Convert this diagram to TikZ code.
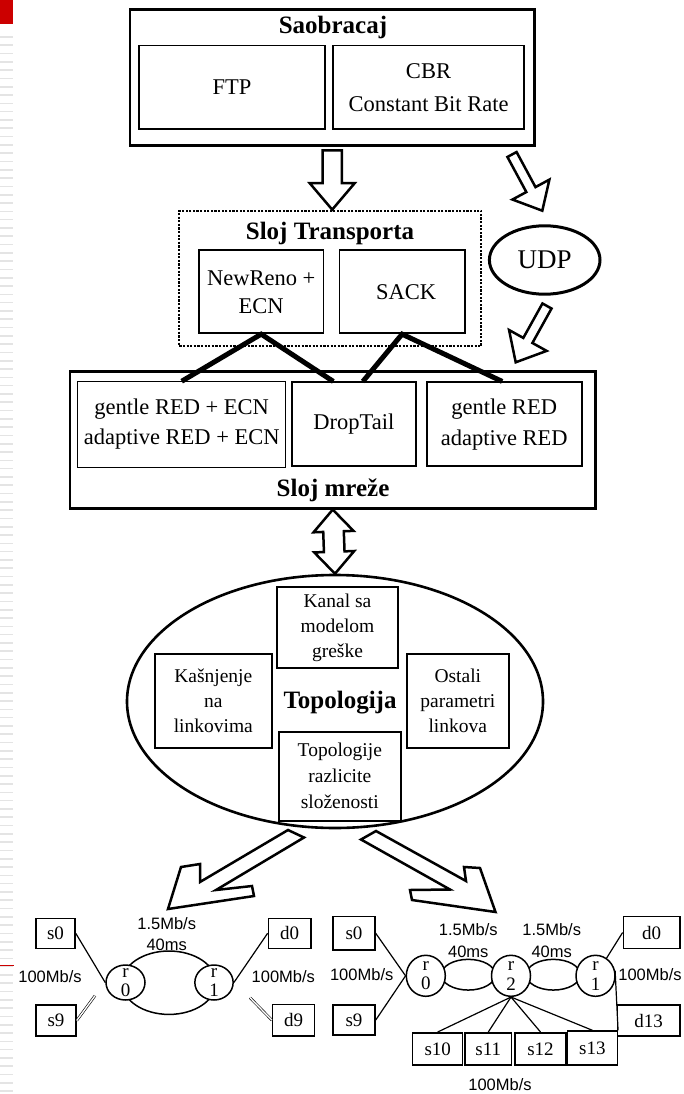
\documentclass[tikz,border=0pt]{standalone}
\usepackage{fontspec}
\setmainfont{Liberation Serif}
\newfontfamily\arialf{Liberation Sans}
\usetikzlibrary{calc,shapes.geometric}
\definecolor{slidered}{RGB}{204,0,0}
\definecolor{stripegray}{RGB}{228,228,228}

\newcommand\blockarrow[5]{%
  \path (#1) coordinate (bas) (#2) coordinate (bat);
  \path ($(bat)!#5!(bas)$) coordinate (bah);
  \draw[barrow] ($(bas)!#3!90:(bat)$) -- ($(bah)!#3!-90:(bas)$) -- ($(bah)!#4!-90:(bas)$) -- (bat)
    -- ($(bah)!#4!90:(bas)$) -- ($(bah)!#3!90:(bas)$) -- ($(bas)!#3!-90:(bat)$) -- cycle;}
\newcommand\dblockarrow[5]{%
  \path (#1) coordinate (bas) (#2) coordinate (bat);
  \path ($(bas)!#5!(bat)$) coordinate (bah1) ($(bat)!#5!(bas)$) coordinate (bah2);
  \draw[barrow] (bas) -- ($(bah1)!#4!90:(bat)$) -- ($(bah1)!#3!90:(bat)$) -- ($(bah2)!#3!-90:(bas)$)
    -- ($(bah2)!#4!-90:(bas)$) -- (bat) -- ($(bah2)!#4!90:(bas)$) -- ($(bah2)!#3!90:(bas)$)
    -- ($(bah1)!#3!-90:(bat)$) -- ($(bah1)!#4!-90:(bat)$) -- cycle;}

\begin{document}
\begin{tikzpicture}[x=1pt,y=-1pt,
  bigbox/.style={draw, line width=2.6pt, inner sep=0pt},
  inbox/.style={draw, line width=1.7pt, inner sep=0pt, align=center, font=\fontsize{22.5}{28}\selectfont},
  title/.style={inner sep=0pt, font=\bfseries\fontsize{25}{30}\selectfont},
  conn/.style={line width=5pt},
  barrow/.style={draw, line width=2.5pt, fill=white, line join=miter},
  topobox/.style={draw, line width=2pt, inner sep=0pt, align=center, font=\fontsize{19.5}{25}\selectfont},
  netbox/.style={draw, line width=1.5pt, inner sep=0pt, font=\fontsize{19}{22}\selectfont},
  router/.style={draw, ellipse, line width=1.5pt, fill=white, inner sep=0pt},
  rlab/.style={align=center, inner sep=0pt, font=\fontsize{19}{19.5}\selectfont},
  link/.style={draw, ellipse, line width=1.5pt, inner sep=0pt},
  netline/.style={line width=1.2pt},
  dline/.style={draw=black, double=white, double distance=1.4pt, line width=0.6pt},
  rate/.style={align=center, inner sep=0pt, font=\arialf\fontsize{16.5}{21.7}\selectfont}
]
\useasboundingbox (0,0) rectangle (683,1094);
\fill[white] (0,0) rectangle (683,1094);

% slide decoration on the left
\fill[slidered] (0,0) rectangle (13,24);
\foreach \i in {0,...,127} \draw[stripegray, line width=1.6pt] (0,{37+8.3*\i}) -- (13,{37+8.3*\i});
\draw[slidered, line width=0.8pt] (0,965.7) -- (14,965.7);

% ---------- Saobracaj ----------
\node[bigbox, minimum width=404.3pt, minimum height=136.2pt] (sao) at (332.2,77.4) {};
\node[title, anchor=base] (saot) at (333,33.3) {Saobracaj};
\node[inbox, minimum width=186pt, minimum height=83.3pt] (ftp) at (232,87.3) {FTP};
\node[inbox, minimum width=191.6pt, minimum height=83.3pt, font=\fontsize{22.5}{33}\selectfont] (cbr) at (428.5,87.3) {CBR\\Constant Bit Rate};

% ---------- Sloj Transporta ----------
\node[draw, line width=2pt, dash pattern=on 2.2pt off 1.4pt, minimum width=302pt, minimum height=135.3pt, inner sep=0pt] (trans) at (330.3,278.3) {};
\node[title, anchor=base] (transt) at (330,239.3) {Sloj Transporta};
\node[inbox, minimum width=124.3pt, minimum height=83pt] (newreno) at (261.2,291.8) {NewReno +\\ECN};
\node[inbox, minimum width=125.2pt, minimum height=83pt] (sack) at (402.1,291.8) {\hspace{8pt}SACK};

\node[draw, ellipse, line width=3pt, minimum width=110.6pt, minimum height=68.4pt, inner sep=0pt, font=\fontsize{27}{30}\selectfont] (udp) at (544.7,260) {UDP};

% ---------- Sloj mreze ----------
\node[bigbox, minimum width=525.5pt, minimum height=136.8pt] (mreze) at (332.75,439.9) {};
\node[title, anchor=base] (mrezet) at (333,496.7) {Sloj mreže};
\node[inbox, line width=0.9pt, minimum width=208pt, minimum height=85.6pt, font=\fontsize{22.5}{30}\selectfont] (gecn) at (181.7,424.5) {gentle RED + ECN\\adaptive RED + ECN};
\node[inbox, minimum width=124.3pt, minimum height=83.7pt] (drop) at (353.85,424.15) {DropTail};
\node[inbox, minimum width=155pt, minimum height=83.7pt, font=\fontsize{22.5}{31}\selectfont] (gred) at (504.2,424.15) {gentle RED\\adaptive RED};

% thick connectors
\draw[conn] (gecn.north) -- (newreno.south) -- ([xshift=-20.5pt]drop.north);
\draw[conn] ([xshift=9pt]drop.north) -- (sack.south) -- ([xshift=-2pt]gred.north);

% block arrows upper part
\blockarrow{[yshift=-3.5pt]sao.south}{trans.north -| sao.south}{9.7pt}{22.5pt}{26.5pt}
\coordinate (a1s) at (512,154.5);
\coordinate (a1t) at (542.3,210.7);
\blockarrow{a1s}{a1t}{5.2pt}{21pt}{24pt}
\coordinate (a2s) at (547,306);
\coordinate (a2t) at (515.7,362.3);
\blockarrow{a2s}{a2t}{5.2pt}{21.5pt}{25pt}

% ---------- Topologija ----------
\node[draw, ellipse, line width=2.6pt, minimum width=416pt, minimum height=253pt, inner sep=0pt] (topo) at (335,701.5) {};
\node[title, anchor=base] (topot) at (340,708.3) {Topologija};
\node[topobox, minimum width=121pt, minimum height=81pt] (kanal) at (337.5,627.5) {Kanal sa\\modelom\\greške};
\node[topobox, minimum width=116.7pt, minimum height=93.7pt] (kasn) at (213.3,700.8) {Kašnjenje\\na\\linkovima};
\node[topobox, minimum width=102.3pt, minimum height=93.7pt] (ostali) at (457.8,700.8) {Ostali\\parametri\\linkova};
\node[topobox, minimum width=121.7pt, minimum height=89.3pt, font=\fontsize{19.5}{26}\selectfont] (topos) at (339.8,776.3) {Topologije\\razlicite\\složenosti};

\dblockarrow{mreze.south}{topo.north}{10.3pt}{20pt}{22pt}

% big arrows down to the two topologies
\draw[barrow] (288,830) -- (200,882) -- (200,864) -- (181,867) -- (168,909) -- (254,896) -- (252,886) -- (216,890) -- (304,837.5) -- cycle;
\draw[barrow] (376,831) -- (466,881) -- (464,867) -- (480,868) -- (495.5,912) -- (412,900) -- (410,890) -- (450,889.5) -- (361,839.5) -- cycle;

% ---------- left topology ----------
\node[link, minimum width=94pt, minimum height=63.4pt] (llink) at (169,982.7) {};
\node[router, minimum width=39pt, minimum height=35pt, label={[rlab]center:{r\\0}}] (lr0) at (125.5,982.5) {};
\node[router, minimum width=38.3pt, minimum height=35pt, label={[rlab]center:{r\\1}}] (lr1) at (214,982.5) {};
\node[netbox, minimum width=39pt, minimum height=30pt] (ls0) at (55.5,933.3) {s0};
\node[netbox, minimum width=40pt, minimum height=31pt] (ls9) at (56,1020.5) {s9};
\node[netbox, minimum width=42.7pt, minimum height=30pt] (ld0) at (289.7,933.3) {d0};
\node[netbox, minimum width=41.6pt, minimum height=31.7pt] (ld9) at (293.5,1020.2) {d9};
\draw[netline] (ls0.east) -- (lr0.west);
\draw[netline] (ld0.west) -- (lr1.east);
\coordinate (ls9e) at (95,995.7);
\coordinate (ld9e) at (250,997.7);
\draw[dline] (ls9.east) -- (ls9e);
\draw[dline] (ld9.west) -- (ld9e);
\node[rate] (lbw) at (166.7,934.2) {1.5Mb/s\\40ms};
\node[rate] (lrl) at (50,976.7) {100Mb/s};
\node[rate] (lrr) at (283.3,976.7) {100Mb/s};

% ---------- right topology ----------
\node[link, minimum width=54pt, minimum height=30.7pt] (rlink1) at (468.3,974.7) {};
\node[link, minimum width=54pt, minimum height=30.7pt] (rlink2) at (553.3,974.7) {};
\node[router, minimum width=39pt, minimum height=41pt, label={[rlab]center:{r\\0}}] (rr0) at (425.8,975.8) {};
\node[router, minimum width=39pt, minimum height=41pt, label={[rlab]center:{r\\2}}] (rr2) at (511,975.8) {};
\node[router, minimum width=39pt, minimum height=41pt, label={[rlab]center:{r\\1}}] (rr1) at (595.5,975.8) {};
\node[netbox, minimum width=42pt, minimum height=33.3pt] (rs0) at (354,933.3) {s0};
\node[netbox, minimum width=42pt, minimum height=30pt] (rs9) at (354,1020) {s9};
\node[netbox, minimum width=56.7pt, minimum height=31.6pt] (rd0) at (651.7,932.5) {d0};
\node[netbox, minimum width=62.7pt, minimum height=31pt] (rd13) at (648.7,1020.5) {d13};
\node[netbox, minimum width=50pt, minimum height=32.3pt] (s10) at (437.7,1048.9) {s10};
\node[netbox, minimum width=46.7pt, minimum height=32.3pt] (s11) at (488.3,1048.9) {s11};
\node[netbox, minimum width=51pt, minimum height=32.3pt] (s12) at (540.5,1048.9) {s12};
\node[netbox, minimum width=50pt, minimum height=34pt] (s13) at (592.3,1048) {s13};
\draw[netline] (rs0.east) -- (rr0.west);
\draw[netline] (rs9.east) -- (rr0.west);
\draw[netline] (rd0.west) -- (rr1);
\draw[netline] (rr1.15) -- (s13.north east);
\foreach \s in {s10,s11,s12,s13} \draw[netline] (rr2.south) -- (\s.north);
\node[rate] (rbw1) at (468.3,940.8) {1.5Mb/s\\40ms};
\node[rate] (rbw2) at (551.7,940.8) {1.5Mb/s\\40ms};
\node[rate] (rrl) at (361.7,975) {100Mb/s};
\node[rate] (rrr) at (650,975) {100Mb/s};
\node[rate] (rrb) at (500,1085) {100Mb/s};
\end{tikzpicture}
\end{document}
